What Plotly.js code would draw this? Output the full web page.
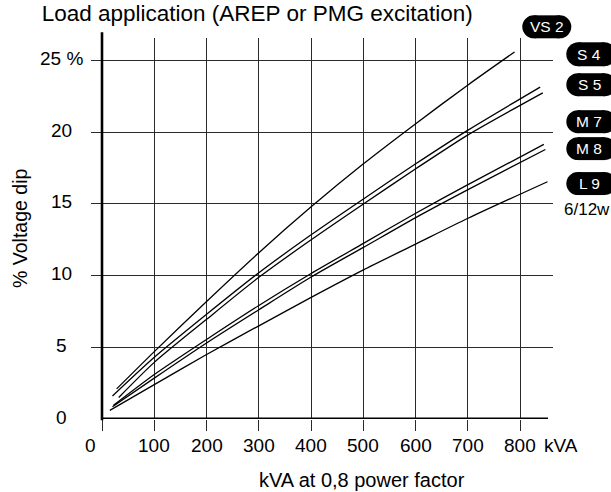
<!DOCTYPE html>
<html>
<head>
<meta charset="utf-8">
<script src="https://cdn.plot.ly/plotly-3.0.1.min.js"></script>
<style>html,body{margin:0;padding:0;background:#fff;}#chart{width:611px;height:492px;}</style>
</head>
<body>
<div id="chart"></div>
<script>
// ---- data ----
const seriesNames = ['VS 2', 'S 4', 'S 5', 'M 7', 'M 8', 'L 9'];
const vs2X = [28, 100, 200, 300, 400, 500, 600, 700, 789];
const vs2Y = [2.1, 4.7, 8.2, 11.6, 14.8, 17.8, 20.6, 23.3, 25.6];
const s4X = [20, 100, 200, 300, 400, 500, 600, 700, 838];
const s4Y = [1.6, 4.3, 7.3, 10.2, 12.85, 15.35, 17.8, 20.15, 23.15];
const s5X = [32, 100, 200, 300, 400, 500, 600, 700, 843];
const s5Y = [1.5, 3.95, 6.95, 9.88, 12.5, 15.0, 17.45, 19.82, 22.75];
const m7X = [22, 100, 200, 300, 400, 500, 600, 700, 845];
const m7Y = [0.95, 3.1, 5.55, 7.92, 10.15, 12.25, 14.35, 16.35, 19.15];
const m8X = [20, 100, 200, 300, 400, 500, 600, 700, 848];
const m8Y = [0.85, 2.85, 5.3, 7.62, 9.9, 11.97, 14.05, 16.0, 18.8];
const l9X = [15, 100, 200, 300, 400, 500, 600, 700, 852];
const l9Y = [0.6, 2.4, 4.5, 6.5, 8.48, 10.4, 12.2, 14.0, 16.55];
const xTickVals = [0, 100, 200, 300, 400, 500, 600, 700, 800];
const xTickText = ['0', '100', '200', '300', '400', '500', '600', '700', '800'];
const xUnit = 'kVA';
const yTickVals = [0, 5, 10, 15, 20, 25];
const yTickText = ['0', '5', '10', '15', '20', '25 %'];
const titleText = 'Load application (AREP or PMG excitation)';
const xTitle = 'kVA at 0,8 power factor';
const yTitle = '% Voltage dip';
const noteText = '6/12w';

// ---- layout geometry (pixels) ----
const W = 611, H = 492;
const L = 102, R = 58.3, T = 37.7, B = 72.7;
const plotW = W - L - R, plotH = H - T - B;
const xMax = plotW / 0.5225;
const yMax = plotH / 14.36;
const px = v => (v - L) / plotW;
const py = v => (H - B - v) / plotH;
const FONT = 'Liberation Sans, Arial, Helvetica, sans-serif';
const GRID = '#2a2a2a';

const allX = [vs2X, s4X, s5X, m7X, m8X, l9X];
const allY = [vs2Y, s4Y, s5Y, m7Y, m8Y, l9Y];
const traces = allX.map((xs, i) => ({
  type: 'scatter', mode: 'lines', name: seriesNames[i],
  x: xs, y: allY[i],
  line: {color: '#000', width: 1.3, shape: 'spline', smoothing: 0.7},
  hoverinfo: 'skip', showlegend: false
}));

const annotations = [];
// y tick labels (centered)
yTickVals.forEach((v, i) => annotations.push({
  x: px(62), xref: 'paper', y: v, yref: 'y', yshift: 2,
  text: yTickText[i], showarrow: false, xanchor: 'center', yanchor: 'middle',
  font: {family: FONT, size: 19, color: '#000'}
}));
// x tick labels
xTickVals.forEach((v, i) => annotations.push({
  x: v, xref: 'x', y: py(446.3), yref: 'paper', xshift: (v === 0 ? -12 : 0),
  text: xTickText[i], showarrow: false, xanchor: 'center', yanchor: 'middle',
  font: {family: FONT, size: 19, color: '#000'}
}));
annotations.push({
  x: px(542), xref: 'paper', y: py(446.3), yref: 'paper',
  text: xUnit, showarrow: false, xanchor: 'left', yanchor: 'middle',
  font: {family: FONT, size: 19, color: '#000'}
});
// axis titles
annotations.push({
  x: px(361.7), xref: 'paper', y: py(480), yref: 'paper',
  text: xTitle, showarrow: false, xanchor: 'center', yanchor: 'middle',
  font: {family: FONT, size: 20, color: '#000'}
});
annotations.push({
  x: px(20), xref: 'paper', y: py(228), yref: 'paper', textangle: -90,
  text: yTitle, showarrow: false, xanchor: 'center', yanchor: 'middle',
  font: {family: FONT, size: 19.5, color: '#000'}
});

// badges
const badgeBoxes = [
  [522, 571, 15, 38],
  [566, 616, 42, 66],
  [566, 616, 73, 96],
  [566, 616, 110, 133],
  [566, 616, 137, 160],
  [566, 616, 172, 195]
];
const badgeTextX = [546.5, 589, 589, 589, 589, 589];
const shapes = [];
badgeBoxes.forEach((b, i) => {
  const [x0, x1, y0, y1] = b;
  const r = (y1 - y0) / 2;
  shapes.push({type: 'rect', xref: 'paper', yref: 'paper', x0: px(x0 + r), x1: px(x1 - r), y0: py(y1), y1: py(y0), fillcolor: '#000', line: {width: 0}, layer: 'above'});
  shapes.push({type: 'circle', xref: 'paper', yref: 'paper', x0: px(x0), x1: px(x0 + 2 * r), y0: py(y1), y1: py(y0), fillcolor: '#000', line: {width: 0}, layer: 'above'});
  shapes.push({type: 'circle', xref: 'paper', yref: 'paper', x0: px(x1 - 2 * r), x1: px(x1), y0: py(y1), y1: py(y0), fillcolor: '#000', line: {width: 0}, layer: 'above'});
  annotations.push({
    x: px(badgeTextX[i]), xref: 'paper', y: py((y0 + y1) / 2), yref: 'paper',
    text: seriesNames[i], showarrow: false, xanchor: 'center', yanchor: 'middle',
    font: {family: FONT, size: 15.5, color: '#fff'}
  });
});
annotations.push({
  x: px(562), xref: 'paper', y: py(209), yref: 'paper',
  text: noteText, showarrow: false, xanchor: 'left', yanchor: 'middle',
  font: {family: FONT, size: 17, color: '#000'}
});

// axis lines (bold)
shapes.push({type: 'line', xref: 'paper', yref: 'paper', x0: 0, x1: 0, y0: py(420.5), y1: py(32), line: {color: '#000', width: 2.6}, layer: 'above'});
shapes.push({type: 'line', xref: 'x', yref: 'y', x0: 0, x1: 853, y0: 0, y1: 0, line: {color: '#000', width: 3}, layer: 'above'});

const layout = {
  width: W, height: H,
  margin: {l: L, r: R, t: T, b: B, pad: 0},
  paper_bgcolor: '#fff', plot_bgcolor: '#fff',
  font: {family: FONT, color: '#000'},
  title: {
    text: titleText, font: {family: FONT, size: 22.5, color: '#000'},
    xref: 'container', yref: 'container', x: 41.7 / W, xanchor: 'left',
    y: 1 - 13 / H, yanchor: 'middle'
  },
  xaxis: {
    range: [0, xMax], tickmode: 'array', tickvals: xTickVals, showticklabels: false,
    showgrid: true, gridcolor: GRID, gridwidth: 1, zeroline: false,
    ticks: 'outside', ticklen: 11, tickwidth: 1, tickcolor: GRID,
    showline: false, fixedrange: true
  },
  yaxis: {
    range: [0, yMax], tickmode: 'array', tickvals: yTickVals.slice(1), showticklabels: false,
    showgrid: true, gridcolor: GRID, gridwidth: 1, zeroline: false,
    ticks: 'outside', ticklen: 10, tickwidth: 1, tickcolor: GRID,
    showline: false, fixedrange: true
  },
  annotations: annotations,
  shapes: shapes,
  showlegend: false
};

Plotly.newPlot('chart', traces, layout, {displayModeBar: false, staticPlot: true});
</script>
</body>
</html>
